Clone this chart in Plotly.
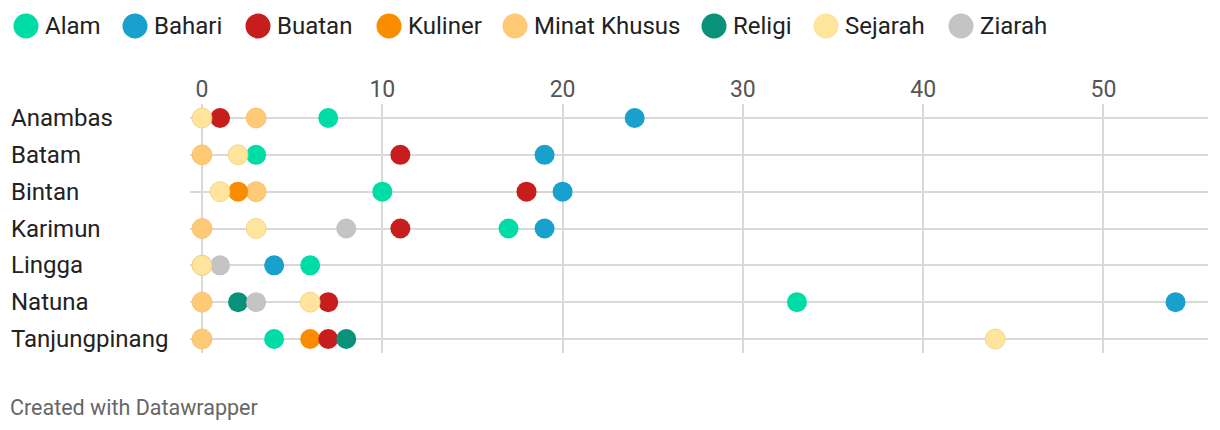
import plotly.graph_objects as go

regions = ["Anambas", "Batam", "Bintan", "Karimun", "Lingga", "Natuna", "Tanjungpinang"]
categories = ["Alam", "Bahari", "Buatan", "Kuliner", "Minat Khusus", "Religi", "Sejarah", "Ziarah"]

alam = [7, 3, 10, 17, 6, 33, 4]
bahari = [24, 19, 20, 19, 4, 54, None]
buatan = [1, 11, 18, 11, None, 7, 7]
kuliner = [None, None, 2, None, None, None, 6]
minat_khusus = [3, 0, 3, 0, 0, 0, 0]
religi = [None, None, None, None, None, 2, 8]
sejarah = [0, 2, 1, 3, 0, 6, 44]
ziarah = [None, None, None, 8, 1, 3, None]

x_ticks = [0, 10, 20, 30, 40, 50]

series = {
    "Alam": alam, "Bahari": bahari, "Buatan": buatan, "Kuliner": kuliner,
    "Minat Khusus": minat_khusus, "Religi": religi, "Sejarah": sejarah, "Ziarah": ziarah,
}
colors = {
    "Alam": "#00dca6", "Bahari": "#18a1cd", "Buatan": "#c71e1d", "Kuliner": "#fa8c00",
    "Minat Khusus": "#ffca76", "Religi": "#09917a", "Sejarah": "#ffe59c", "Ziarah": "#c4c4c4",
}
outline = {"Sejarah": "#f0cf85", "Minat Khusus": "#f5bd6a"}

W, H = 1220, 430
L, R, T, B = 190, 12, 104, 77
pw, ph = W - L - R, H - T - B

def px_to_paper_x(px):
    return (px - L) / pw

def py_to_paper_y(py):
    return (H - B - py) / ph

fig = go.Figure()
draw_order = ["Minat Khusus", "Kuliner", "Buatan", "Religi", "Alam", "Bahari", "Ziarah", "Sejarah"]
for name in draw_order:
    vals = series[name]
    xs = [v for v in vals if v is not None]
    ys = [r for r, v in zip(regions, vals) if v is not None]
    fig.add_trace(go.Scatter(
        x=xs, y=ys, mode="markers", name=name, showlegend=False,
        marker=dict(size=20, color=colors[name],
                    line=dict(width=0.8 if name in outline else 0, color=outline.get(name, colors[name]))),
        hovertemplate="%{y}: %{x}<extra>" + name + "</extra>",
    ))

# manual legend
leg_centers = [26, 135, 258, 389, 515, 714, 826, 961]
leg_y = 26
for cat, cx in zip(categories, leg_centers):
    fig.add_shape(type="circle", xref="paper", yref="paper",
                  xsizemode="pixel", ysizemode="pixel",
                  xanchor=px_to_paper_x(cx), yanchor=py_to_paper_y(leg_y),
                  x0=-12.5, x1=12.5, y0=-12.5, y1=12.5,
                  fillcolor=colors[cat], line=dict(width=0))
    fig.add_annotation(x=px_to_paper_x(cx + 17), y=py_to_paper_y(leg_y), xref="paper", yref="paper",
                       text=cat, showarrow=False, xanchor="left", yanchor="middle",
                       font=dict(family="Roboto", size=24, color="#222222"))

# row labels (left aligned)
for r in regions:
    fig.add_annotation(x=px_to_paper_x(9), y=r, xref="paper", yref="y", text=r,
                       showarrow=False, xanchor="left", yanchor="middle",
                       font=dict(family="Roboto", size=24, color="#222222"))

fig.add_annotation(x=px_to_paper_x(8), y=py_to_paper_y(407), xref="paper", yref="paper",
                   text="Created with Datawrapper", showarrow=False, xanchor="left", yanchor="middle",
                   font=dict(family="Roboto", size=21.5, color="#666666"))

fig.update_xaxes(side="top", range=[-0.667, 55.8], tickvals=x_ticks,
                 ticktext=[str(t) for t in x_ticks],
                 showgrid=True, gridcolor="#d9d9d9", gridwidth=2, zeroline=False,
                 showline=False, ticks="", ticklabelstandoff=1,
                 tickfont=dict(family="Roboto", size=23, color="#555555"))
fig.update_yaxes(type="category", categoryorder="array", categoryarray=regions,
                 range=[6.38, -0.38], showgrid=True, gridcolor="#d9d9d9", gridwidth=2,
                 zeroline=False, showticklabels=False, ticks="", showline=False)

fig.update_layout(width=W, height=H, margin=dict(l=L, r=R, t=T, b=B),
                  plot_bgcolor="white", paper_bgcolor="white",
                  font=dict(family="Roboto"), showlegend=False)

fig.write_html("out.html")
